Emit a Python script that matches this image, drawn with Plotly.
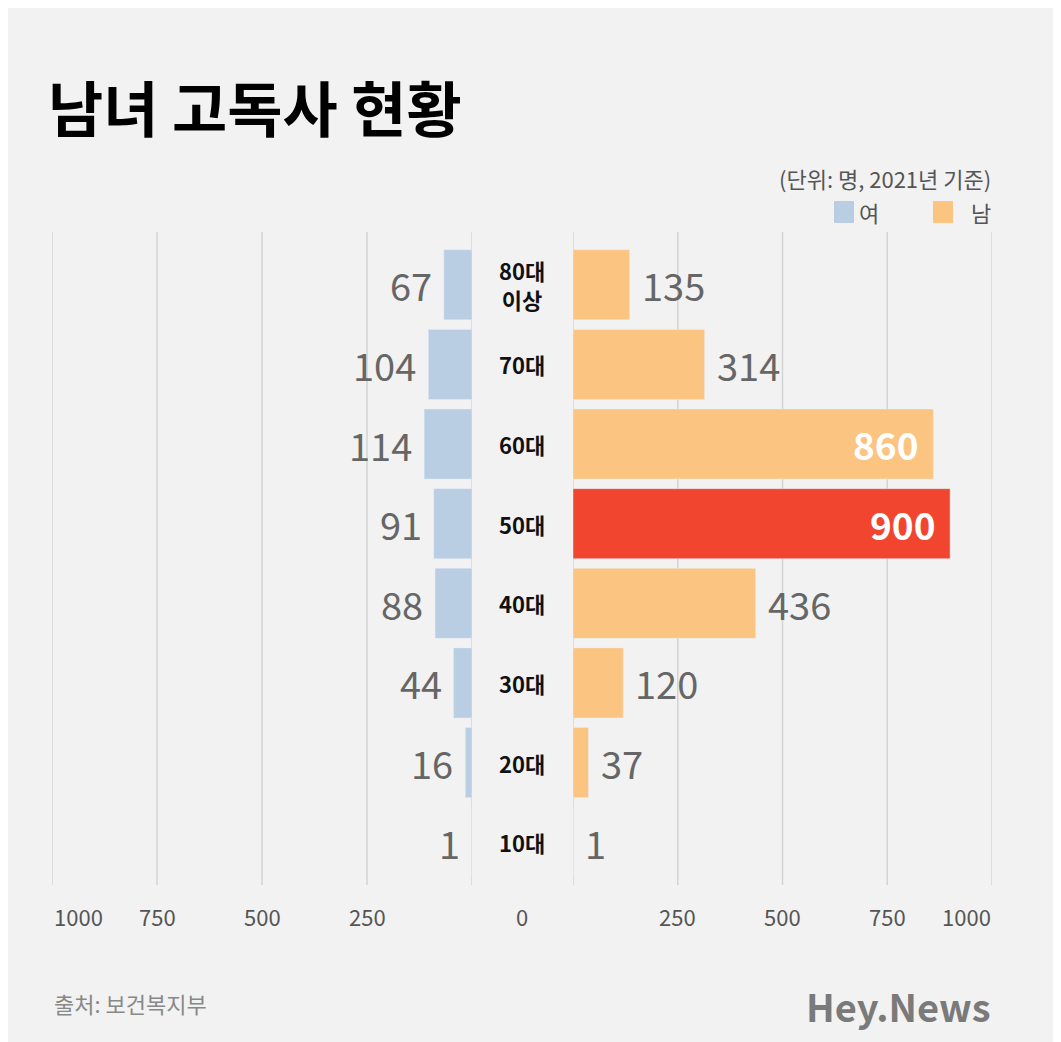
import plotly.graph_objects as go
from plotly.subplots import make_subplots

ages = ["80대<br>이상", "70대", "60대", "50대", "40대", "30대", "20대", "10대"]
female = [67, 104, 114, 91, 88, 44, 16, 1]
male = [135, 314, 860, 900, 436, 120, 37, 1]
ticks = [0, 250, 500, 750, 1000]

W, H = 1061, 1042
OFF = 8
FONT = "Noto Sans CJK KR"
male_colors = ["#f1452f" if v == max(male) else "#fcc481" for v in male]
ypos = list(range(len(ages)))


def px(x):
    return (x - OFF) / W


def py(y):
    return 1 - (y - OFF) / H


fig = make_subplots(rows=1, cols=2, shared_yaxes=False, horizontal_spacing=0)
fig.add_trace(go.Bar(x=female, y=ypos, orientation="h", marker_color="#b9cde3",
                     width=0.88, showlegend=False), 1, 1)
fig.add_trace(go.Bar(x=male, y=ypos, orientation="h", marker_color=male_colors,
                     width=0.88, showlegend=False), 1, 2)

fig.update_xaxes(range=[1000, 0], domain=(px(52), px(472)), visible=False, row=1, col=1)
fig.update_xaxes(range=[0, 1000], domain=(px(573), px(992)), visible=False, row=1, col=2)
fig.update_yaxes(range=[len(ages) - 0.5, -0.5], domain=(py(882), py(245)), visible=False)

for t in ticks:
    for ax in ("x", "x2"):
        fig.add_shape(type="line", xref=ax, yref="paper", x0=t, x1=t,
                      y0=py(885), y1=py(232),
                      line=dict(color="#d3d3d3", width=1.5), layer="below")

ann = []
for i, (a, f, m) in enumerate(zip(ages, female, male)):
    ann.append(dict(x=px(522), xref="paper", y=i, yref="y", text=f"<b>{a}</b>",
                    xanchor="center", yanchor="middle",
                    showarrow=False, font=dict(size=22, color="#111", family=FONT)))
    ann.append(dict(x=f, xref="x", y=i, yref="y", text=str(f), xanchor="right", yanchor="middle",
                    xshift=-10, showarrow=False, font=dict(size=38, color="#666", family=FONT)))
    if m > 700:
        ann.append(dict(x=m, xref="x2", y=i, yref="y", text=f"<b>{m}</b>", xanchor="right",
                        yanchor="middle", xshift=-12, showarrow=False,
                        font=dict(size=37, color="white", family=FONT)))
    else:
        ann.append(dict(x=m, xref="x2", y=i, yref="y", text=str(m), xanchor="left",
                        yanchor="middle", xshift=10, showarrow=False,
                        font=dict(size=38, color="#666", family=FONT)))

for t in ticks[1:]:
    ann.append(dict(x=t, xref="x", y=py(916), yref="paper", text=str(t), showarrow=False,
                    xanchor="center", yanchor="middle", xshift=(26 if t == 1000 else 0),
                    font=dict(size=22, color="#555", family=FONT)))
    ann.append(dict(x=t, xref="x2", y=py(916), yref="paper", text=str(t), showarrow=False,
                    xanchor="center", yanchor="middle", xshift=(-26 if t == 1000 else 0),
                    font=dict(size=22, color="#555", family=FONT)))
ann.append(dict(x=px(522), xref="paper", y=py(916), yref="paper", text="0", showarrow=False,
                xanchor="center", yanchor="middle",
                font=dict(size=22, color="#555", family=FONT)))

ann += [
    dict(x=px(46), xref="paper", y=py(105), yref="paper", xanchor="left", yanchor="middle",
         text="<b>남녀 고독사 현황</b>", showarrow=False,
         font=dict(size=60, color="#000", family=FONT)),
    dict(x=px(993), xref="paper", y=py(178), yref="paper", xanchor="right", yanchor="middle",
         text="(단위: 명, 2021년 기준)", showarrow=False,
         font=dict(size=22, color="#555", family=FONT)),
    dict(x=px(857), xref="paper", y=py(212), yref="paper", xanchor="left", yanchor="middle",
         text="여", showarrow=False, font=dict(size=22, color="#555", family=FONT)),
    dict(x=px(993), xref="paper", y=py(212), yref="paper", xanchor="right", yanchor="middle",
         text="남", showarrow=False, font=dict(size=22, color="#555", family=FONT)),
    dict(x=px(52), xref="paper", y=py(1003), yref="paper", xanchor="left", yanchor="middle",
         text="출처: 보건복지부", showarrow=False, font=dict(size=22, color="#888", family=FONT)),
    dict(x=px(993), xref="paper", y=py(1005), yref="paper", xanchor="right", yanchor="middle",
         text="<b>Hey.News</b>", showarrow=False, font=dict(size=38, color="#7a7a7a", family=FONT)),
]

for x0, y0, x1, y1, c in [(834, 201, 854, 223, "#b9cde3"), (933, 201, 953, 223, "#fcc481")]:
    fig.add_shape(type="rect", xref="paper", yref="paper", x0=px(x0), x1=px(x1),
                  y0=py(y1), y1=py(y0), fillcolor=c, line_width=0)

fig.update_layout(annotations=ann, width=W, height=H,
                  margin=dict(l=0, r=0, t=0, b=0),
                  paper_bgcolor="#f2f2f2", plot_bgcolor="#f2f2f2",
                  font=dict(family=FONT), barmode="overlay")
fig.write_html("out.html")
